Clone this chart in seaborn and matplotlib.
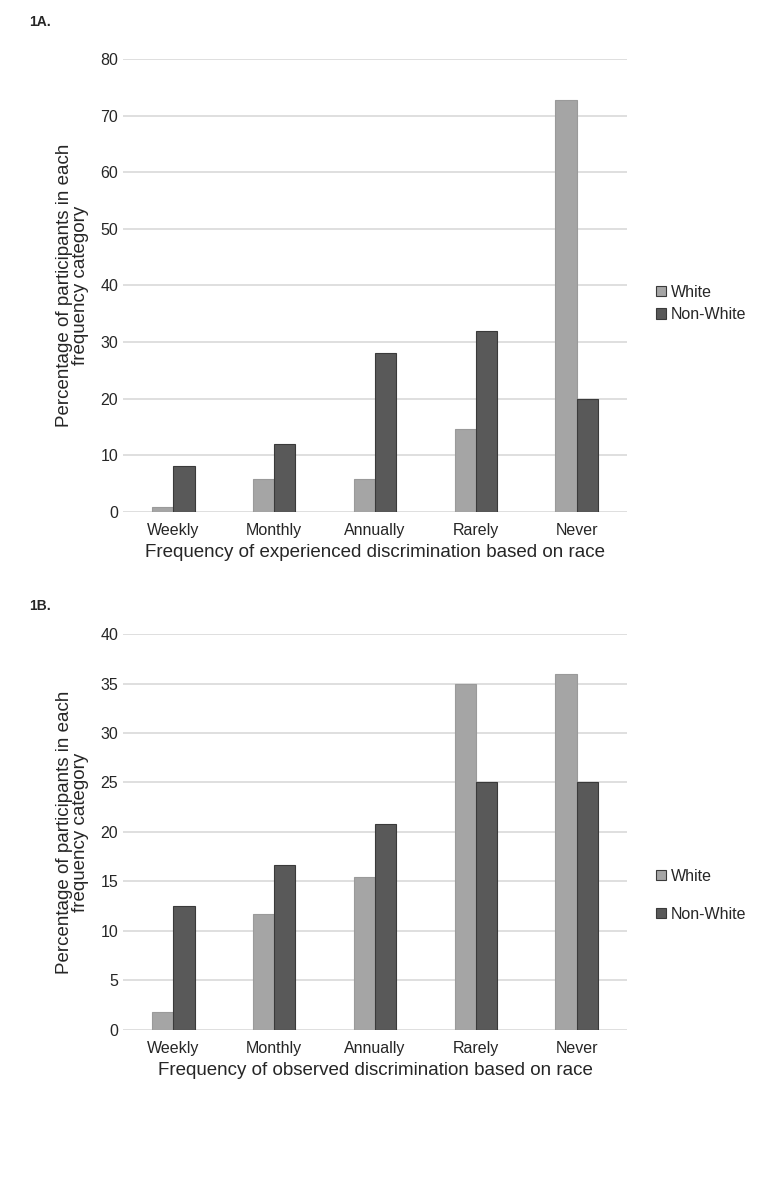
import pandas as pd
import matplotlib
matplotlib.use("Agg")
import matplotlib.pyplot as plt
import seaborn as sns

cats = ["Weekly", "Monthly", "Annually", "Rarely", "Never"]
groups = ["White", "Non-White"]

# 1A: experienced discrimination
exp_white = [0.9, 5.8, 5.8, 14.6, 72.8]
exp_nonwhite = [8.2, 12.0, 28.0, 32.0, 20.0]

# 1B: observed discrimination
obs_white = [1.8, 11.7, 15.5, 35.0, 36.0]
obs_nonwhite = [12.5, 16.7, 20.8, 25.0, 25.0]

pal = {"White": "#a5a5a5", "Non-White": "#595959"}


def long_df(w, nw):
    rows = []
    for c, a, b in zip(cats, w, nw):
        rows.append({"freq": c, "group": "White", "pct": a})
        rows.append({"freq": c, "group": "Non-White", "pct": b})
    return pd.DataFrame(rows)


sns.set_style("white")
plt.rcParams["font.family"] = ["Liberation Sans", "DejaVu Sans"]

fig = plt.figure(figsize=(7.77, 12.01), dpi=100)


def panel(rect, df, ymax, step, xlabel, tag, tag_y, leg_y, leg_space):
    ax = fig.add_axes(rect)
    sns.barplot(data=df, x="freq", y="pct", hue="group", order=cats,
                hue_order=groups, palette=pal, width=0.42, ax=ax,
                edgecolor="#3a3a3a", linewidth=0.8, saturation=1)
    for b in ax.patches[:len(cats)]:
        b.set_edgecolor("#9a9a9a")
    ax.set_ylim(0, ymax)
    ax.set_yticks(range(0, ymax + 1, step))
    ax.yaxis.grid(True, color="#d9d9d9", linewidth=1.2)
    ax.set_axisbelow(True)
    for s in ax.spines.values():
        s.set_visible(False)
    ax.tick_params(axis="both", length=0, labelsize=11.5, colors="#262626")
    ax.tick_params(axis="x", pad=8)
    ax.set_xlabel(xlabel, fontsize=13.5, color="#262626", labelpad=4)
    ax.set_ylabel("Percentage of participants in each\nfrequency category",
                  fontsize=13.5, color="#262626", labelpad=8, linespacing=0.95)
    h, l = ax.get_legend_handles_labels()
    ax.legend(h, l, loc="center left", bbox_to_anchor=(1.03, leg_y),
              frameon=False, fontsize=11.5, handlelength=0.6, handleheight=0.6,
              handletextpad=0.3, labelspacing=leg_space)
    fig.text(0.038, tag_y, tag, fontsize=10, fontweight="bold")
    return ax


panel([0.1583, 0.5737, 0.6486, 0.3772], long_df(exp_white, exp_nonwhite), 80, 10,
      "Frequency of experienced discrimination based on race", "1A.", 0.978, 0.46, 0.45)
panel([0.1583, 0.1424, 0.6486, 0.3297], long_df(obs_white, obs_nonwhite), 40, 5,
      "Frequency of observed discrimination based on race", "1B.", 0.492, 0.34, 1.45)

fig.savefig("out.png", dpi=100)
